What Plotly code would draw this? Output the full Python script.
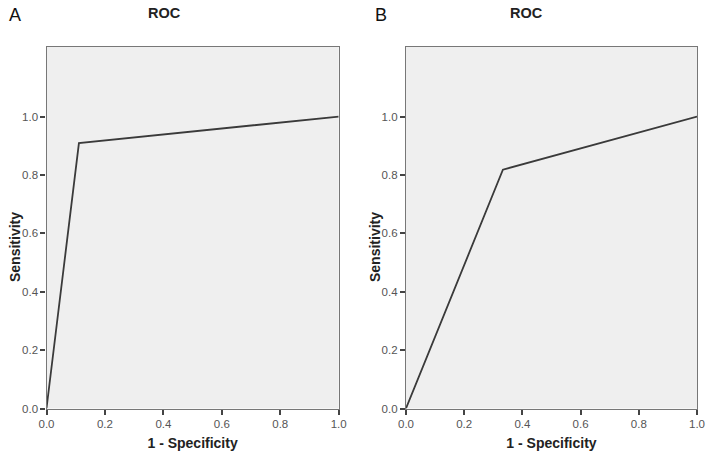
import plotly.graph_objects as go

# Data
fpr_a = [0.0, 0.111, 1.0]
tpr_a = [0.0, 0.909, 1.0]
fpr_b = [0.0, 0.333, 1.0]
tpr_b = [0.0, 0.818, 1.0]
tick_vals = [0.0, 0.2, 0.4, 0.6, 0.8, 1.0]
tick_text = ["0.0", "0.2", "0.4", "0.6", "0.8", "1.0"]
panel_labels = ["A", "B"]
panel_title = "ROC"
x_title = "1 - Specificity"
y_title = "Sensitivity"

W, H = 708, 461
FONT = "Liberation Sans, Arial, sans-serif"

fig = go.Figure()
fig.add_trace(go.Scatter(x=fpr_a, y=tpr_a, mode="lines", line=dict(color="#3a3a3a", width=1.8),
                         xaxis="x", yaxis="y", showlegend=False, hoverinfo="skip"))
fig.add_trace(go.Scatter(x=fpr_b, y=tpr_b, mode="lines", line=dict(color="#3a3a3a", width=1.8),
                         xaxis="x2", yaxis="y2", showlegend=False, hoverinfo="skip"))

a_left, a_right = 46.5, 338.7
b_left, b_right = 406, 697
top, bottom = 46.5, 408.5

def xd(px):
    return px / W

def yd(py):
    return 1 - py / H

axis_common = dict(
    showgrid=False, zeroline=False, showline=True, linecolor="#777777", linewidth=1.3,
    mirror=True, ticks="outside", ticklen=5, tickwidth=1.5, tickcolor="#444444",
    tickfont=dict(family=FONT, size=11.5, color="#555555"), automargin=False,
)

xa = dict(axis_common, range=[0, 1], tickvals=tick_vals, ticktext=tick_text,
          title=dict(text="<b>" + x_title + "</b>", font=dict(family=FONT, size=14, color="#222222"), standoff=8))
ya = dict(axis_common, range=[0, 1.24], tickvals=tick_vals, ticktext=tick_text)

title_font = dict(family=FONT, size=14, color="#222222")

fig.update_layout(
    width=W, height=H,
    margin=dict(l=0, r=0, t=0, b=0, autoexpand=False),
    paper_bgcolor="white",
    plot_bgcolor="#efefef",
    xaxis=dict(xa, domain=[xd(a_left), xd(a_right)], anchor="y"),
    yaxis=dict(ya, domain=[yd(bottom), yd(top)], anchor="x"),
    xaxis2=dict(xa, domain=[xd(b_left), xd(b_right)], anchor="y2"),
    yaxis2=dict(ya, domain=[yd(bottom), yd(top)], anchor="x2"),
    annotations=[
        dict(text=panel_labels[0], x=xd(7), y=yd(15), xref="paper", yref="paper", showarrow=False,
             xanchor="left", yanchor="middle", font=dict(family=FONT, size=18, color="#111111")),
        dict(text=panel_labels[1], x=xd(373), y=yd(15), xref="paper", yref="paper", showarrow=False,
             xanchor="left", yanchor="middle", font=dict(family=FONT, size=18, color="#111111")),
        dict(text="<b>" + panel_title + "</b>", x=xd(164), y=yd(13), xref="paper", yref="paper",
             showarrow=False, xanchor="center", yanchor="middle", font=dict(family=FONT, size=14.5, color="#222222")),
        dict(text="<b>" + panel_title + "</b>", x=xd(526), y=yd(13), xref="paper", yref="paper",
             showarrow=False, xanchor="center", yanchor="middle", font=dict(family=FONT, size=14.5, color="#222222")),
        dict(text="<b>" + y_title + "</b>", x=xd(15), y=yd(247), xref="paper", yref="paper",
             showarrow=False, xanchor="center", yanchor="middle", textangle=-90, font=title_font),
        dict(text="<b>" + y_title + "</b>", x=xd(375), y=yd(247), xref="paper", yref="paper",
             showarrow=False, xanchor="center", yanchor="middle", textangle=-90, font=title_font),
    ],
)

fig.write_html("out.html", config={"displayModeBar": False},
               post_script="document.body.style.margin='0';document.body.style.padding='0';")
